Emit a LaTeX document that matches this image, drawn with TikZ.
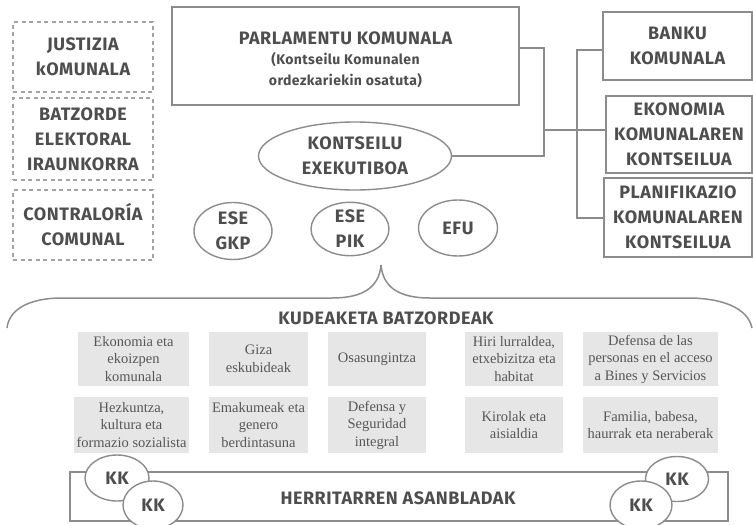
\documentclass[tikz,border=0pt]{standalone}
\usepackage{fontspec}
\setmainfont{Fira Sans}[LetterSpace=3]
\newfontfamily\boxserif{Liberation Serif}
\usetikzlibrary{shapes.geometric}
\definecolor{txt}{HTML}{4E4E4E}
\definecolor{ln}{HTML}{8C8C8C}
\definecolor{gbox}{HTML}{E6E6E6}
\definecolor{gtxt}{HTML}{575757}
\begin{document}
\begin{tikzpicture}[x=1pt,y=-1pt,
  every node/.style={text=txt, align=center, inner sep=0pt},
  hfont/.style={font=\bfseries\fontsize{18}{25}\selectfont},
  dbox/.style={hfont, draw=ln!80, line width=1.6pt, dash pattern=on 4pt off 3.5pt, rectangle},
  sbox/.style={hfont, draw=ln, line width=1.5pt, rectangle},
  oval/.style={hfont, draw=ln, line width=1.4pt, ellipse, fill=white},
  gcell/.style={fill=gbox, text=gtxt, font=\boxserif\fontsize{14.5}{17.5}\selectfont, rectangle},
  conn/.style={draw=ln, line width=1.5pt}]
\useasboundingbox (0,0) rectangle (753,525);

% left dashed boxes
\node[dbox, minimum width=140pt, minimum height=70pt] (jus) at (83,57) {JUSTIZIA\\kOMUNALA};
\node[dbox, minimum width=140pt, minimum height=82pt] (bat) at (83,139) {BATZORDE\\ELEKTORAL\\IRAUNKORRA};
\node[dbox, minimum width=140pt, minimum height=70pt] (con) at (83,225) {CONTRALORÍA\\COMUNAL};

% parliament
\node[sbox, minimum width=347pt, minimum height=98pt] (parl) at (345.5,56) {};
\node[hfont] (parlt) at (345.5,38) {PARLAMENTU KOMUNALA};
\node[font=\bfseries\fontsize{14}{21}\selectfont] (parls) at (345.5,70) {(Kontseilu Komunalen\\ordezkariekin osatuta)};

% right boxes
\node[sbox, minimum width=149pt, minimum height=68pt] (ban) at (677.5,46) {BANKU\\KOMUNALA};
\node[sbox, minimum width=146pt, minimum height=77pt] (eko) at (679,134.5) {EKONOMIA\\KOMUNALAREN\\KONTSEILUA};
\node[sbox, minimum width=148pt, minimum height=79pt] (pla) at (678,217.5) {PLANIFIKAZIO\\KOMUNALAREN\\KONTSEILUA};

% ellipses
\node[oval, minimum width=193pt, minimum height=68pt] (kon) at (355,156) {KONTSEILU\\EXEKUTIBOA};
\node[oval, minimum width=78pt, minimum height=57pt] (gkp) at (233,231) {ESE\\GKP};
\node[oval, minimum width=78pt, minimum height=52pt] (pik) at (350,229) {ESE\\PIK};
\node[oval, minimum width=79pt, minimum height=56pt] (efu) at (458,228) {EFU};

% connectors
\coordinate (ja) at (544,48);
\coordinate (jb) at (544,156);
\coordinate (jc) at (544,130);
\coordinate (va) at (577,50);
\coordinate (vb) at (577,218);
\draw[conn] (parl.east |- ja) -- (ja) -- (jb) -- (kon.east);
\draw[conn] (jc) -- (eko.west |- jc);
\draw[conn] (ban.west |- va) -- (va) -- (vb) -- (pla.west |- vb);

% brace
\coordinate (tip) at (381,265);
\coordinate (bl) at (7,328);
\coordinate (br) at (752,328);
\draw[conn] (tip) .. controls (379,288) and (362,298) .. (332,298) -- (62,298) .. controls (28,298) and (9,310) .. (bl);
\draw[conn] (tip) .. controls (383,288) and (400,298) .. (430,298) -- (688,298) .. controls (722,298) and (748,308) .. (br);

\node[hfont] (kud) at (386,318) {KUDEAKETA BATZORDEAK};

% grey cells
\node[gcell, minimum width=111pt, minimum height=54pt] (c11) at (133.5,359) {Ekonomia eta\\ekoizpen\\komunala};
\node[gcell, minimum width=99pt, minimum height=54pt] (c12) at (258.5,359) {Giza\\eskubideak};
\node[gcell, minimum width=98pt, minimum height=54pt] (c13) at (377,359) {Osasungintza};
\node[gcell, minimum width=98pt, minimum height=54pt] (c14) at (514,359) {Hiri lurraldea,\\etxebizitza eta\\habitat};
\node[gcell, minimum width=135pt, minimum height=54pt] (c15) at (650.5,359) {Defensa de las\\personas en el acceso\\a Bines y Servicios};
\node[gcell, minimum width=115pt, minimum height=56pt] (c21) at (131.5,425) {Hezkuntza,\\kultura eta\\formazio sozialista};
\node[gcell, minimum width=99pt, minimum height=56pt] (c22) at (258.5,425) {Emakumeak eta\\genero\\berdintasuna};
\node[gcell, minimum width=98pt, minimum height=56pt] (c23) at (377,425) {Defensa y\\Seguridad\\integral};
\node[gcell, minimum width=98pt, minimum height=56pt] (c24) at (514,425) {Kirolak eta\\aisialdia};
\node[gcell, minimum width=135pt, minimum height=56pt] (c25) at (650.5,425) {Familia, babesa,\\haurrak eta neraberak};

% assemblies
\node[sbox, minimum width=658pt, minimum height=49pt] (her) at (399,496.5) {};
\node[hfont] (hert) at (398,498) {HERRITARREN ASANBLADAK};
\node[oval, minimum width=64pt, minimum height=46pt] (kl1) at (117,478) {KK};
\node[oval, minimum width=60pt, minimum height=48pt] (kl2) at (153,505) {KK};
\node[oval, minimum width=63pt, minimum height=45pt] (kr1) at (677,479) {KK};
\node[oval, minimum width=62pt, minimum height=48pt] (kr2) at (641,505) {KK};
\end{tikzpicture}
\end{document}
